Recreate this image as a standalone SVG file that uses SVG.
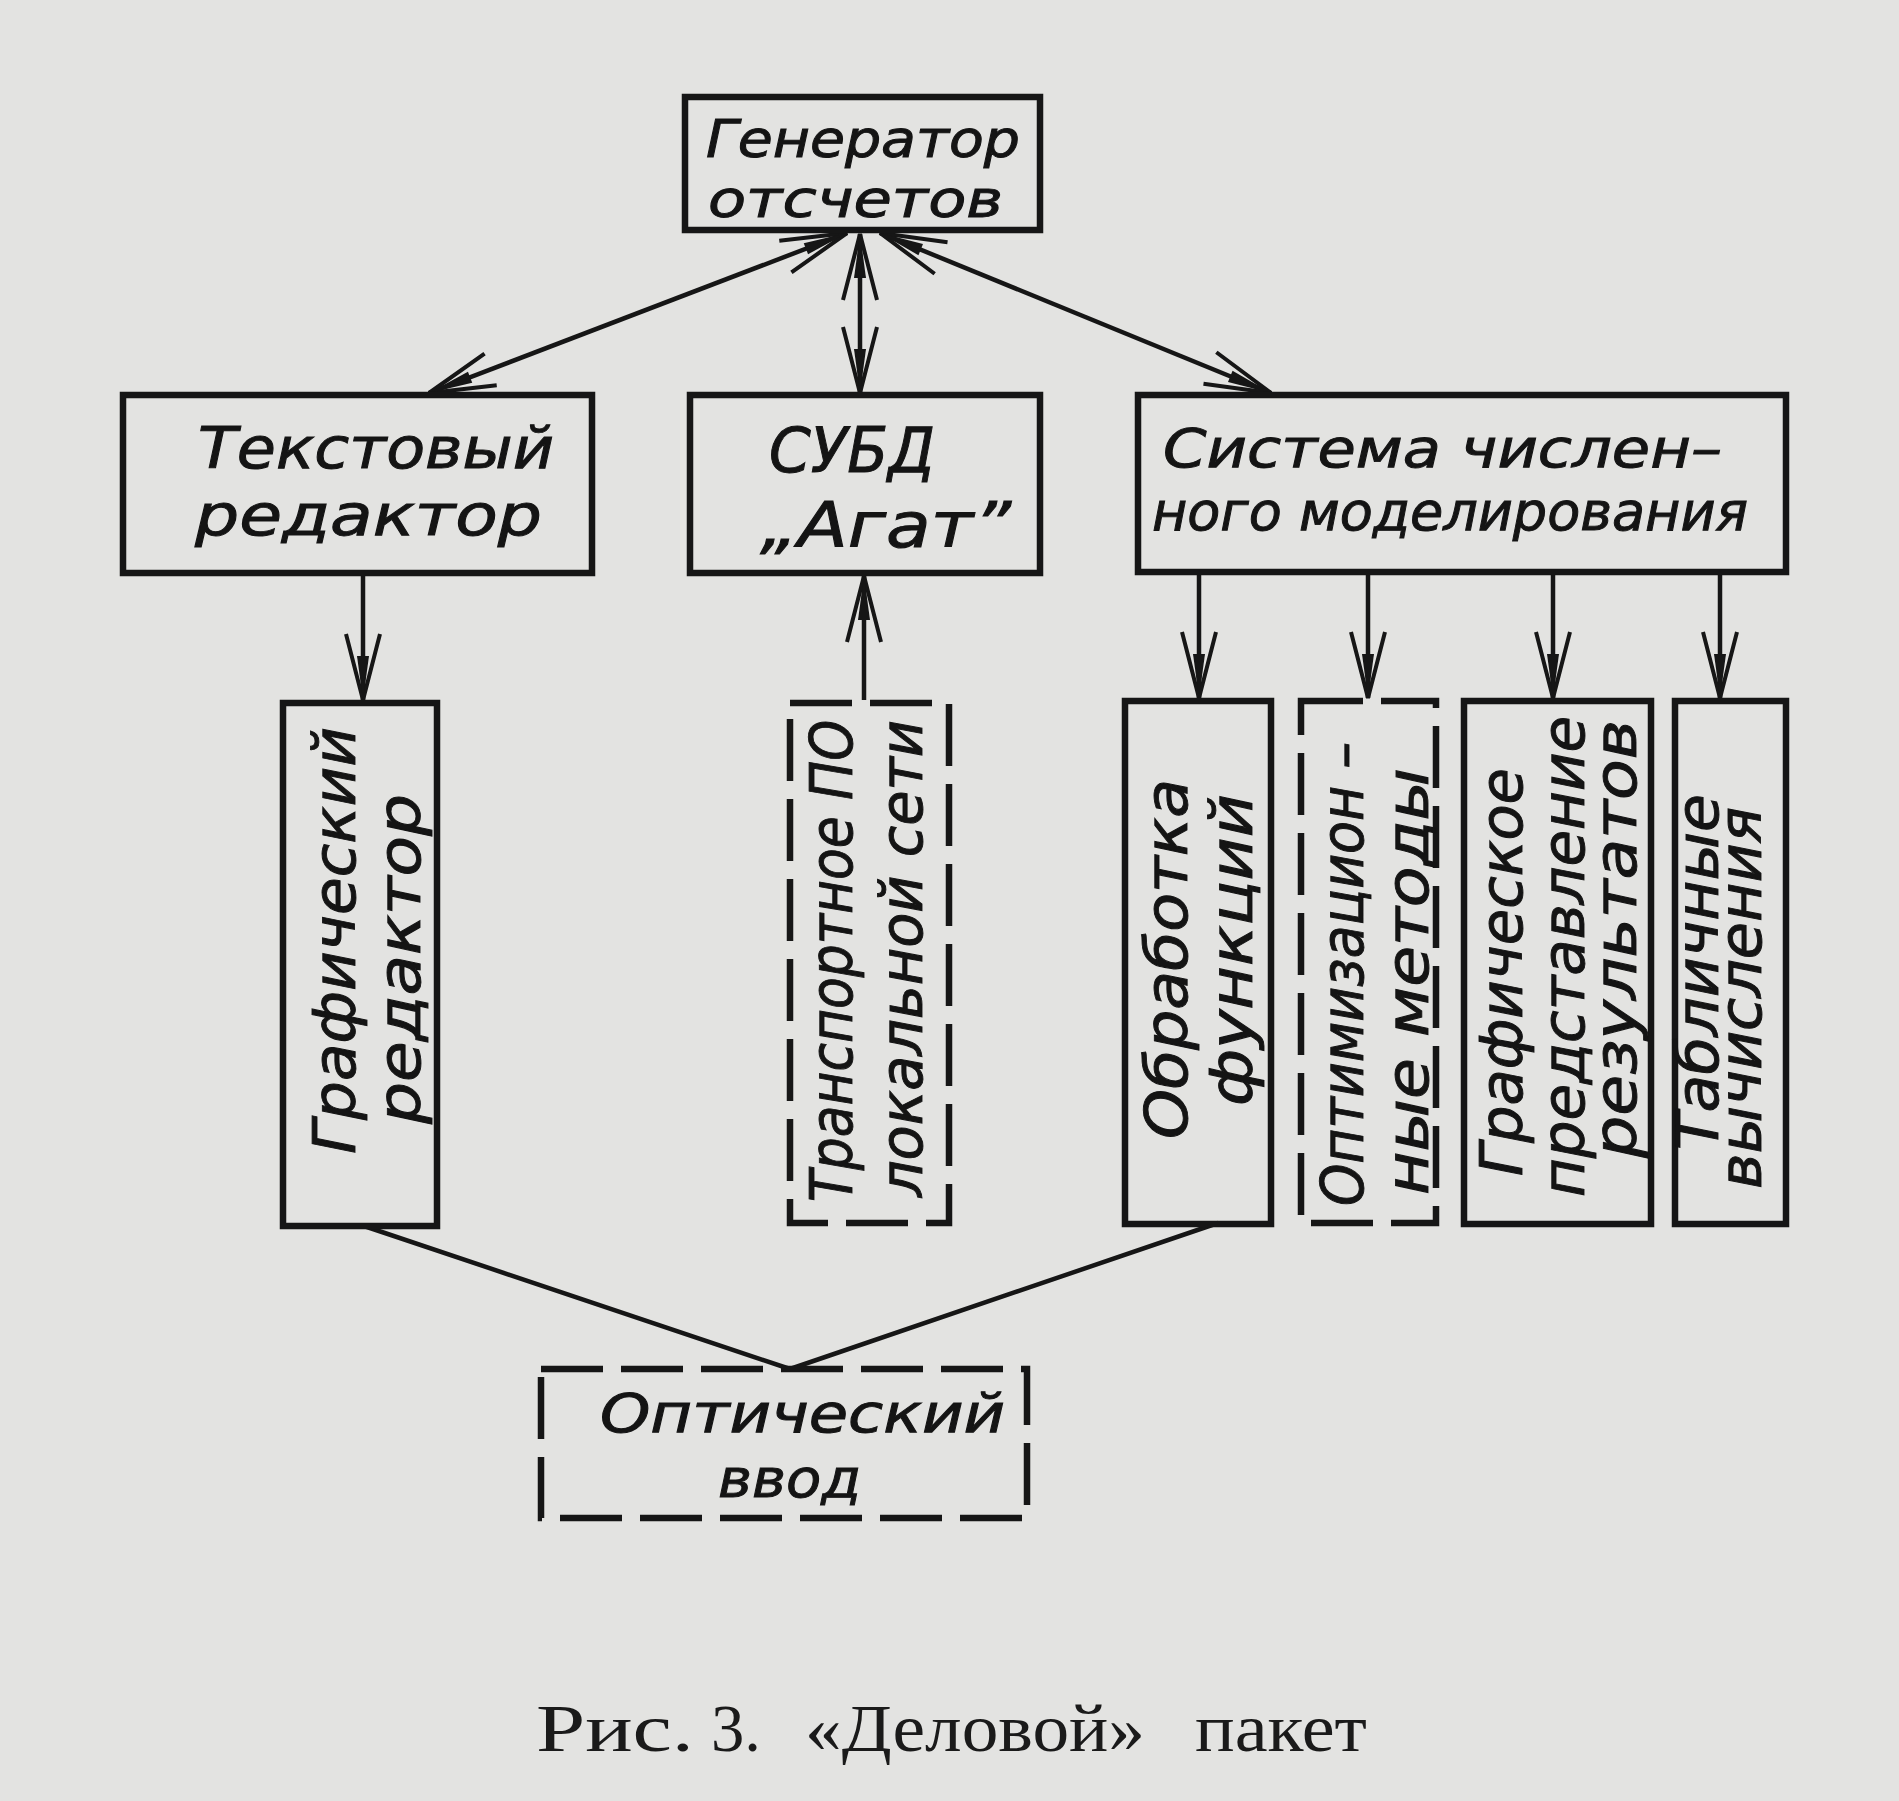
<svg xmlns="http://www.w3.org/2000/svg" width="1899" height="1801" viewBox="0 0 1899 1801">
<style>
.bg{fill:#e3e3e1}
.box{fill:none;stroke:#161616;stroke-width:6.5}
.dash{fill:none;stroke:#161616;stroke-width:6.5;stroke-dasharray:62 18}
.t{font-family:'DejaVu Sans Condensed','DejaVu Sans',sans-serif;font-style:oblique;font-stretch:condensed;fill:#141414;stroke:#141414;stroke-width:0.9;font-size:62px}
.g{font-size:51px}
.te{font-size:57px}
.s{font-size:53px}
.v{font-size:58px}
.o{font-size:54px}
.cap{font-family:'Liberation Serif',serif;font-size:68px;fill:#1a1a1a}
.ln{fill:none;stroke:#161616;stroke-width:4.5}
</style>
<defs>
<marker id="ah" markerUnits="userSpaceOnUse" markerWidth="10" markerHeight="10" refX="0" refY="0" orient="auto-start-reverse" style="overflow:visible">
<path d="M-66,-17 L0,0 L-66,17" fill="none" stroke="#161616" stroke-width="4"/>
<path d="M-44,-6 L0,0 L-44,6 Z" fill="#161616"/>
</marker>
</defs>
<rect class="bg" x="0" y="0" width="1899" height="1801"/>

<g id="connectors">
<line class="ln" x1="847" y1="233" x2="429" y2="393" marker-start="url(#ah)" marker-end="url(#ah)"/>
<line class="ln" x1="860" y1="234" x2="860" y2="393" marker-start="url(#ah)" marker-end="url(#ah)"/>
<line class="ln" x1="880" y1="233" x2="1271" y2="393" marker-start="url(#ah)" marker-end="url(#ah)"/>
<line class="ln" x1="363" y1="576" x2="363" y2="700" marker-end="url(#ah)"/>
<line class="ln" x1="864" y1="700" x2="864" y2="576" marker-end="url(#ah)"/>
<line class="ln" x1="1199" y1="574" x2="1199" y2="698" marker-end="url(#ah)"/>
<line class="ln" x1="1368" y1="574" x2="1368" y2="698" marker-end="url(#ah)"/>
<line class="ln" x1="1553" y1="574" x2="1553" y2="698" marker-end="url(#ah)"/>
<line class="ln" x1="1720" y1="574" x2="1720" y2="698" marker-end="url(#ah)"/>
<polyline class="ln" points="364,1226 790,1369 1218,1223"/>
</g>

<g id="generator">
<rect class="box" x="685" y="97" width="355" height="133"/>
<text class="t g"><tspan x="706" y="157" textLength="314" lengthAdjust="spacingAndGlyphs">Генератор</tspan><tspan x="708" y="217" textLength="295" lengthAdjust="spacingAndGlyphs">отсчетов</tspan></text>
</g>

<g id="text-editor">
<rect class="box" x="123" y="395" width="469" height="178"/>
<text class="t te"><tspan x="198" y="468" textLength="356" lengthAdjust="spacingAndGlyphs">Текстовый</tspan><tspan x="195" y="535" textLength="347" lengthAdjust="spacingAndGlyphs">редактор</tspan></text>
</g>

<g id="dbms">
<rect class="box" x="690" y="395" width="350" height="178"/>
<text class="t"><tspan x="769" y="472" textLength="166" lengthAdjust="spacingAndGlyphs">СУБД</tspan><tspan x="760" y="547" textLength="251" lengthAdjust="spacingAndGlyphs">„Агат”</tspan></text>
</g>

<g id="numeric-system">
<rect class="box" x="1138" y="395" width="648" height="177"/>
<text class="t s"><tspan x="1163" y="467" textLength="559" lengthAdjust="spacingAndGlyphs">Система числен–</tspan><tspan x="1152" y="530" textLength="596" lengthAdjust="spacingAndGlyphs">ного моделирования</tspan></text>
</g>

<g id="graphic-editor">
<rect class="box" x="283" y="703" width="154" height="523"/>
<text class="t v" transform="rotate(-90)"><tspan x="-1154" y="355" textLength="427" lengthAdjust="spacingAndGlyphs">Графический</tspan><tspan x="-1124" y="420" textLength="330" lengthAdjust="spacingAndGlyphs">редактор</tspan></text>
</g>

<g id="transport">
<rect class="dash" x="790" y="703" width="159" height="520"/>
<text class="t v" transform="rotate(-90)"><tspan x="-1202" y="852" textLength="482" lengthAdjust="spacingAndGlyphs">Транспортное ПО</tspan><tspan x="-1197" y="922" textLength="477" lengthAdjust="spacingAndGlyphs">локальной сети</tspan></text>
</g>

<g id="functions">
<rect class="box" x="1125" y="701" width="146" height="523"/>
<text class="t v" transform="rotate(-90)"><tspan x="-1139" y="1187" textLength="360" lengthAdjust="spacingAndGlyphs">Обработка</tspan><tspan x="-1106" y="1252" textLength="312" lengthAdjust="spacingAndGlyphs">функций</tspan></text>
</g>

<g id="optimization">
<rect class="dash" x="1301" y="701" width="135" height="522"/>
<text class="t v" transform="rotate(-90)"><tspan x="-1206" y="1363" textLength="464" lengthAdjust="spacingAndGlyphs">Оптимизацион –</tspan><tspan x="-1195" y="1428" textLength="427" lengthAdjust="spacingAndGlyphs">ные методы</tspan></text>
</g>

<g id="graphic-results">
<rect class="box" x="1464" y="701" width="187" height="523"/>
<text class="t v" transform="rotate(-90)"><tspan x="-1176" y="1522" textLength="408" lengthAdjust="spacingAndGlyphs">Графическое</tspan><tspan x="-1197" y="1584" textLength="481" lengthAdjust="spacingAndGlyphs">представление</tspan><tspan x="-1158" y="1636" textLength="438" lengthAdjust="spacingAndGlyphs">результатов</tspan></text>
</g>

<g id="tables">
<rect class="box" x="1675" y="701" width="111" height="523"/>
<text class="t v" transform="rotate(-90)"><tspan x="-1150" y="1718" textLength="356" lengthAdjust="spacingAndGlyphs">Табличные</tspan><tspan x="-1189" y="1761" textLength="382" lengthAdjust="spacingAndGlyphs">вычисления</tspan></text>
</g>

<g id="optical-input">
<rect class="dash" x="541" y="1369" width="486" height="149"/>
<text class="t o"><tspan x="600" y="1432" textLength="405" lengthAdjust="spacingAndGlyphs">Оптический</tspan><tspan x="718" y="1497" textLength="143" lengthAdjust="spacingAndGlyphs">ввод</tspan></text>
</g>

<g id="caption">
<text class="cap"><tspan x="536" y="1751" textLength="158" lengthAdjust="spacingAndGlyphs">Рис.</tspan><tspan x="711" y="1751" textLength="50" lengthAdjust="spacingAndGlyphs">3.</tspan><tspan x="805" y="1751" textLength="340" lengthAdjust="spacingAndGlyphs">«Деловой»</tspan><tspan x="1195" y="1751" textLength="172" lengthAdjust="spacingAndGlyphs">пакет</tspan></text>
</g>
</svg>
